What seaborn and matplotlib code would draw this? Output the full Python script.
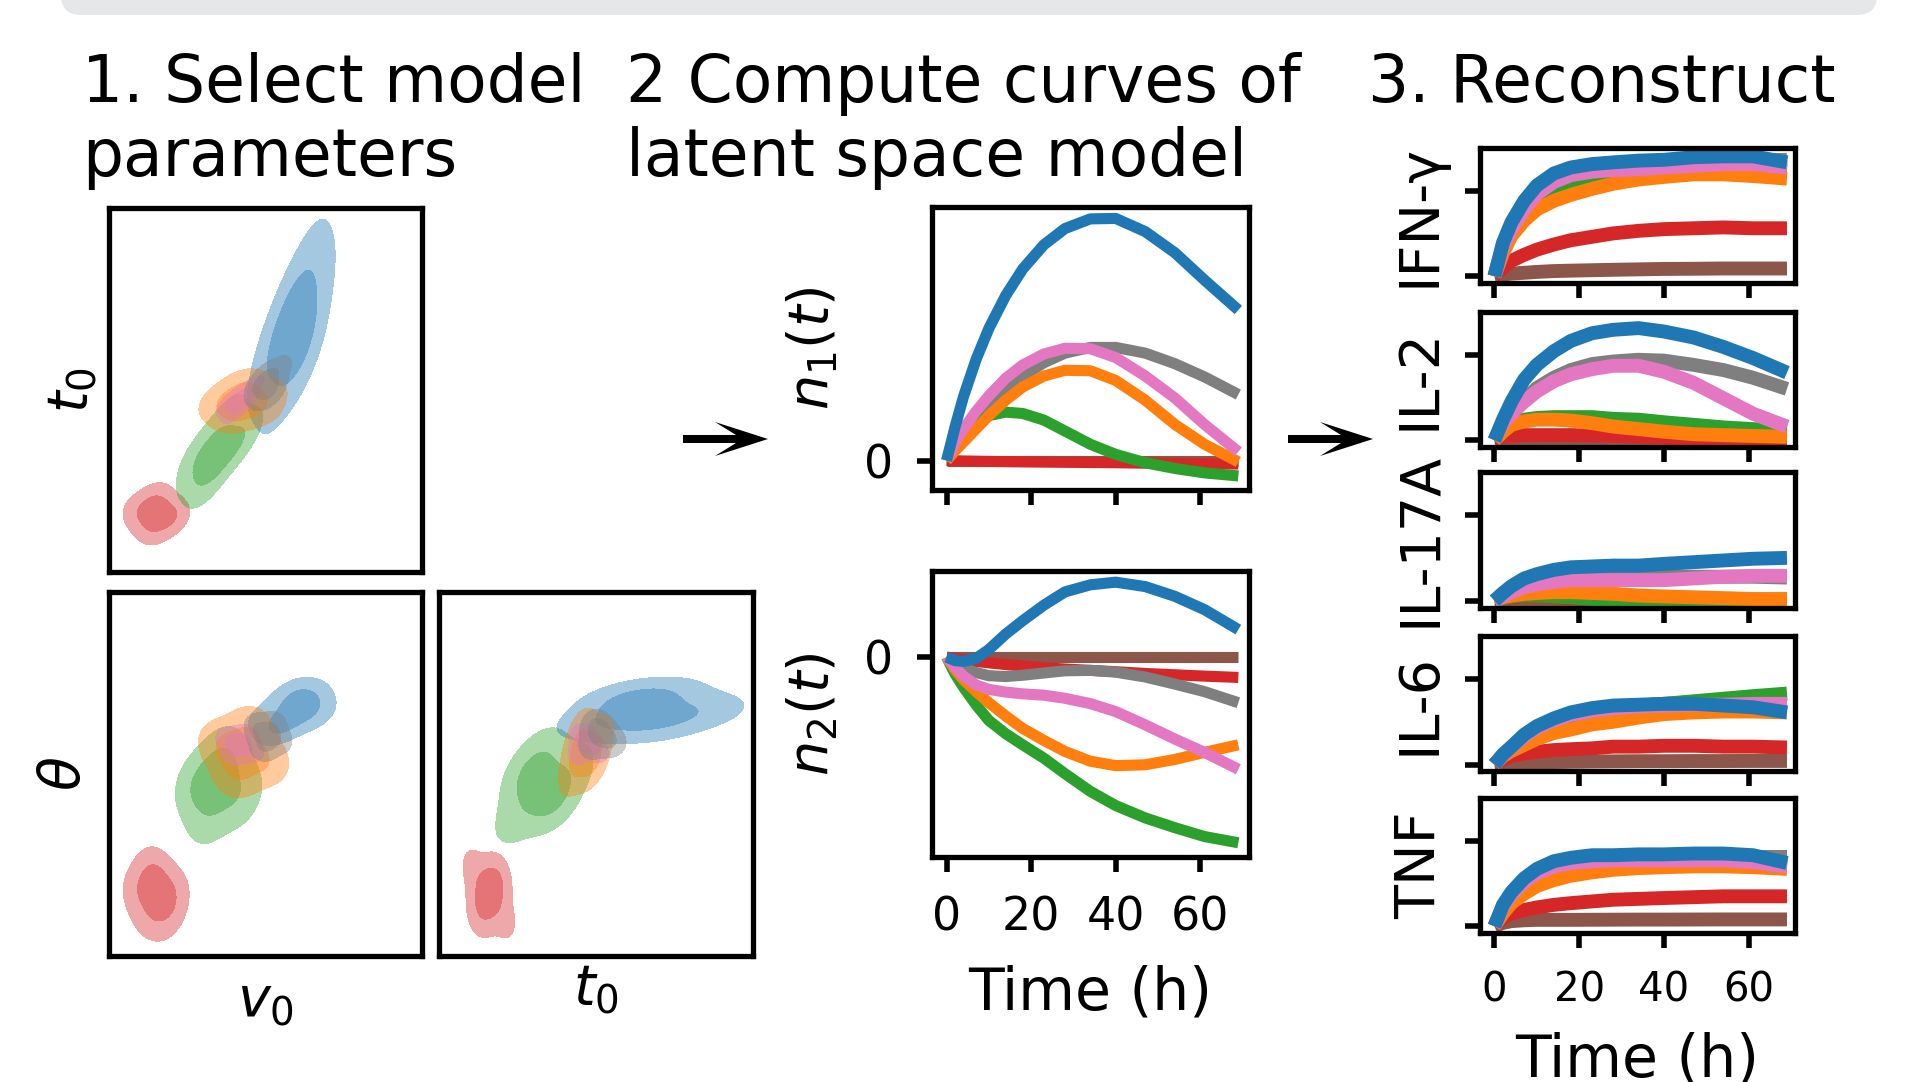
import matplotlib
matplotlib.use("Agg")
import matplotlib.pyplot as plt
from matplotlib.colors import ListedColormap
from matplotlib.patches import FancyBboxPatch, Polygon
import pandas as pd
import seaborn as sns


# ------------------------------------------------------------------ #
# Data                                          #
# ------------------------------------------------------------------ #
TIME = [0, 2, 4, 7, 10, 14, 18, 23, 28, 34, 40, 47, 54, 61, 69]

# drawing order: later names end up on top
SERIES = ["brown", "red", "gray", "green", "orange", "pink", "blue"]
PALETTE = {
    "blue": "#1f77b4", "orange": "#ff7f0e", "green": "#2ca02c", "red": "#d62728",
    "brown": "#8c564b", "pink": "#e377c2", "gray": "#7f7f7f",
}

# latent space curves n1(t), n2(t)
n1_curves = {
    "blue":   [0, 0.76, 1.45, 2.30, 3.00, 3.75, 4.35, 4.90, 5.27, 5.49, 5.50, 5.20, 4.72, 4.10, 3.42],
    "gray":   [0, 0.32, 0.52, 0.82, 1.12, 1.57, 1.92, 2.22, 2.44, 2.57, 2.57, 2.44, 2.20, 1.90, 1.50],
    "pink":   [0, 0.42, 0.72, 1.12, 1.47, 1.87, 2.17, 2.42, 2.55, 2.54, 2.34, 1.92, 1.42, 0.82, 0.20],
    "orange": [0, 0.22, 0.42, 0.72, 1.02, 1.37, 1.67, 1.92, 2.05, 2.04, 1.82, 1.37, 0.82, 0.37, -0.03],
    "green":  [0, 0.27, 0.52, 0.82, 1.02, 1.10, 1.07, 0.92, 0.67, 0.37, 0.14, -0.05, -0.18, -0.28, -0.35],
    "red":    [0, -0.005, -0.01, -0.015, -0.02, -0.025, -0.03, -0.035, -0.04, -0.045, -0.05, -0.06, -0.065, -0.07, -0.08],
    "brown":  [0, 0, 0, 0, 0, 0, 0, 0, 0, 0, 0, 0, 0, 0, 0],
}
n2_curves = {
    "blue":   [0, -0.08, -0.10, -0.03, 0.17, 0.52, 0.82, 1.17, 1.47, 1.63, 1.69, 1.59, 1.37, 1.07, 0.62],
    "red":    [0, -0.03, -0.06, -0.10, -0.13, -0.17, -0.20, -0.24, -0.27, -0.30, -0.33, -0.37, -0.40, -0.43, -0.46],
    "brown":  [0, 0, 0, 0, 0, 0, 0, 0, 0, 0, 0, 0, 0, 0, 0],
    "gray":   [0, -0.13, -0.25, -0.35, -0.42, -0.44, -0.41, -0.36, -0.31, -0.30, -0.34, -0.45, -0.61, -0.78, -1.03],
    "pink":   [0, -0.23, -0.43, -0.63, -0.73, -0.79, -0.83, -0.86, -0.93, -1.05, -1.23, -1.53, -1.85, -2.15, -2.53],
    "orange": [0, -0.28, -0.51, -0.78, -1.03, -1.33, -1.61, -1.88, -2.13, -2.35, -2.45, -2.43, -2.31, -2.15, -1.98],
    "green":  [0, -0.38, -0.68, -1.08, -1.43, -1.73, -1.98, -2.28, -2.63, -3.03, -3.35, -3.63, -3.85, -4.05, -4.19],
}

# reconstructed cytokines
ifng_curves = {
    "blue":   [0, 0.39, 0.63, 0.88, 1.06, 1.20, 1.27, 1.31, 1.33, 1.35, 1.36, 1.39, 1.40, 1.40, 1.33],
    "pink":   [0, 0.35, 0.55, 0.78, 0.96, 1.10, 1.18, 1.22, 1.24, 1.25, 1.27, 1.29, 1.31, 1.31, 1.27],
    "gray":   [0, 0.36, 0.57, 0.80, 0.98, 1.12, 1.19, 1.23, 1.25, 1.27, 1.29, 1.31, 1.33, 1.35, 1.36],
    "green":  [0, 0.32, 0.52, 0.72, 0.88, 1.02, 1.10, 1.15, 1.19, 1.21, 1.23, 1.24, 1.25, 1.25, 1.23],
    "orange": [0, 0.27, 0.47, 0.65, 0.78, 0.88, 0.95, 1.02, 1.08, 1.13, 1.16, 1.19, 1.19, 1.17, 1.14],
    "red":    [0, 0.10, 0.18, 0.25, 0.31, 0.37, 0.42, 0.46, 0.50, 0.53, 0.55, 0.56, 0.57, 0.56, 0.56],
    "brown":  [0, 0.02, 0.03, 0.04, 0.05, 0.06, 0.065, 0.07, 0.075, 0.08, 0.085, 0.087, 0.09, 0.09, 0.09],
}
il2_curves = {
    "blue":   [0, 0.24, 0.45, 0.71, 0.88, 1.04, 1.16, 1.25, 1.29, 1.31, 1.27, 1.20, 1.09, 0.96, 0.79],
    "gray":   [0, 0.20, 0.31, 0.47, 0.61, 0.73, 0.82, 0.89, 0.92, 0.94, 0.93, 0.88, 0.82, 0.73, 0.60],
    "pink":   [0, 0.20, 0.31, 0.45, 0.57, 0.69, 0.77, 0.83, 0.87, 0.87, 0.80, 0.67, 0.49, 0.31, 0.16],
    "green":  [0, 0.10, 0.18, 0.24, 0.26, 0.27, 0.27, 0.27, 0.25, 0.24, 0.21, 0.18, 0.15, 0.13, 0.11],
    "orange": [0, 0.10, 0.18, 0.22, 0.24, 0.24, 0.23, 0.20, 0.16, 0.13, 0.10, 0.07, 0.06, 0.05, 0.04],
    "red":    [0, 0.04, 0.05, 0.06, 0.06, 0.06, 0.06, 0.055, 0.05, 0.04, 0.03, 0.02, 0.01, 0.0, 0.0],
    "brown":  [0, 0.01, 0.01, 0.01, 0.01, 0.01, 0.01, 0.01, 0.01, 0.01, 0.01, 0.01, 0.01, 0.01, 0.01],
}
il17a_curves = {
    "blue":   [0, 0.09, 0.17, 0.26, 0.31, 0.36, 0.39, 0.40, 0.41, 0.41, 0.43, 0.45, 0.47, 0.49, 0.50],
    "pink":   [0, 0.05, 0.10, 0.16, 0.19, 0.22, 0.24, 0.24, 0.24, 0.24, 0.24, 0.26, 0.28, 0.29, 0.29],
    "gray":   [0, 0.06, 0.12, 0.18, 0.21, 0.24, 0.26, 0.27, 0.27, 0.28, 0.28, 0.28, 0.28, 0.28, 0.27],
    "orange": [0, 0.04, 0.06, 0.08, 0.09, 0.10, 0.10, 0.09, 0.08, 0.06, 0.05, 0.04, 0.03, 0.02, 0.02],
    "green":  [0, 0.03, 0.05, 0.06, 0.06, 0.05, 0.04, 0.02, 0.0, -0.02, -0.03, -0.04, -0.04, -0.05, -0.05],
    "red":    [0, 0.03, 0.04, 0.05, 0.05, 0.04, 0.03, 0.02, 0.01, 0.0, 0.0, 0.0, 0.0, 0.0, 0.0],
    "brown":  [0, 0.005, 0.01, 0.01, 0.01, 0.01, 0.01, 0.01, 0.01, 0.01, 0.01, 0.01, 0.01, 0.01, 0.01],
}
il6_curves = {
    "blue":   [0, 0.12, 0.21, 0.35, 0.45, 0.54, 0.61, 0.66, 0.69, 0.70, 0.71, 0.71, 0.69, 0.67, 0.61],
    "green":  [0, 0.11, 0.19, 0.32, 0.42, 0.51, 0.57, 0.62, 0.66, 0.69, 0.71, 0.74, 0.77, 0.80, 0.83],
    "gray":   [0, 0.11, 0.19, 0.32, 0.42, 0.51, 0.57, 0.62, 0.66, 0.69, 0.71, 0.73, 0.74, 0.76, 0.77],
    "pink":   [0, 0.11, 0.20, 0.33, 0.43, 0.52, 0.58, 0.63, 0.66, 0.68, 0.69, 0.70, 0.70, 0.71, 0.71],
    "orange": [0, 0.10, 0.16, 0.23, 0.30, 0.37, 0.41, 0.47, 0.50, 0.55, 0.59, 0.61, 0.62, 0.62, 0.61],
    "red":    [0, 0.06, 0.10, 0.13, 0.15, 0.17, 0.18, 0.19, 0.21, 0.21, 0.22, 0.22, 0.21, 0.21, 0.20],
    "brown":  [0, 0.01, 0.015, 0.02, 0.025, 0.03, 0.033, 0.036, 0.038, 0.04, 0.04, 0.042, 0.042, 0.043, 0.043],
}
tnf_curves = {
    "blue":   [0, 0.25, 0.40, 0.56, 0.67, 0.76, 0.80, 0.83, 0.83, 0.84, 0.84, 0.85, 0.85, 0.83, 0.74],
    "gray":   [0, 0.22, 0.36, 0.50, 0.60, 0.69, 0.74, 0.77, 0.78, 0.79, 0.80, 0.80, 0.81, 0.81, 0.81],
    "pink":   [0, 0.23, 0.37, 0.52, 0.62, 0.70, 0.74, 0.76, 0.77, 0.77, 0.77, 0.77, 0.77, 0.75, 0.70],
    "green":  [0, 0.22, 0.36, 0.50, 0.60, 0.67, 0.71, 0.73, 0.74, 0.75, 0.75, 0.75, 0.75, 0.74, 0.72],
    "orange": [0, 0.15, 0.27, 0.38, 0.47, 0.54, 0.59, 0.63, 0.66, 0.68, 0.69, 0.70, 0.70, 0.69, 0.67],
    "red":    [0, 0.10, 0.15, 0.19, 0.22, 0.25, 0.27, 0.29, 0.31, 0.32, 0.33, 0.34, 0.35, 0.35, 0.35],
    "brown":  [0, 0.04, 0.06, 0.07, 0.075, 0.075, 0.075, 0.076, 0.077, 0.078, 0.078, 0.079, 0.08, 0.08, 0.08],
}
CYTOKINES = ["IFN-γ", "IL-2", "IL-17A", "IL-6", "TNF"]
cytokine_curves = [ifng_curves, il2_curves, il17a_curves, il6_curves, tnf_curves]

# model parameter samples (scaled 0..1) for the density panels
KDE_ORDER = ["red", "green", "blue", "orange", "pink", "gray"]
v0_samples = {
    "red":    [0.09, 0.12, 0.15, 0.18, 0.21, 0.14, 0.16, 0.11, 0.19, 0.15],
    "green":  [0.28, 0.31, 0.34, 0.35, 0.38, 0.43, 0.32, 0.40, 0.37, 0.29],
    "blue":   [0.50, 0.54, 0.57, 0.60, 0.62, 0.64, 0.66, 0.58, 0.63, 0.55],
    "orange": [0.35, 0.40, 0.43, 0.46, 0.51, 0.37, 0.44, 0.49, 0.42, 0.41],
    "pink":   [0.38, 0.40, 0.42, 0.44, 0.46, 0.41, 0.43, 0.39],
    "gray":   [0.47, 0.49, 0.51, 0.53, 0.55, 0.50, 0.52, 0.48],
}
t0_samples = {
    "red":    [0.16, 0.13, 0.19, 0.14, 0.17, 0.11, 0.21, 0.18, 0.15, 0.16],
    "green":  [0.28, 0.24, 0.36, 0.31, 0.43, 0.38, 0.29, 0.35, 0.34, 0.33],
    "blue":   [0.56, 0.50, 0.70, 0.60, 0.66, 0.85, 0.78, 0.72, 0.62, 0.64],
    "orange": [0.45, 0.42, 0.50, 0.46, 0.49, 0.48, 0.52, 0.44, 0.47, 0.44],
    "pink":   [0.46, 0.44, 0.49, 0.47, 0.51, 0.45, 0.48, 0.47],
    "gray":   [0.50, 0.48, 0.54, 0.51, 0.56, 0.53, 0.49, 0.52],
}
theta_samples = {
    "red":    [0.17, 0.11, 0.22, 0.15, 0.19, 0.24, 0.10, 0.20, 0.14, 0.18],
    "green":  [0.47, 0.37, 0.43, 0.51, 0.52, 0.46, 0.50, 0.42, 0.56, 0.45],
    "blue":   [0.66, 0.63, 0.64, 0.70, 0.71, 0.68, 0.66, 0.72, 0.69, 0.63],
    "orange": [0.59, 0.49, 0.55, 0.63, 0.53, 0.57, 0.61, 0.54, 0.51, 0.56],
    "pink":   [0.60, 0.55, 0.57, 0.61, 0.56, 0.59, 0.58, 0.58],
    "gray":   [0.63, 0.57, 0.60, 0.64, 0.59, 0.58, 0.61, 0.62],
}

# ------------------------------------------------------------------ #
# Style                                                                #
# ------------------------------------------------------------------ #
sns.set_style("ticks", rc={
    "axes.edgecolor": "black",
    "xtick.color": "black",
    "ytick.color": "black",
    "text.color": "black",
    "axes.labelcolor": "black",
})
plt.rcParams["font.family"] = ["DejaVu Sans"]
plt.rcParams["mathtext.fontset"] = "dejavusans"
plt.rcParams["axes.linewidth"] = 3.8

W_PX, H_PX = 1905, 1082
fig = plt.figure(figsize=(W_PX / 100, H_PX / 100), dpi=100)

# grey band at the very top
band = FancyBboxPatch((0.61, (H_PX - 15) / 100), 18.16, 1.0,
                      boxstyle="round,pad=0,rounding_size=0.2",
                      transform=fig.dpi_scale_trans, facecolor="#e6e7e9",
                      edgecolor="none")
fig.add_artist(band)

# headings
title_kw = dict(fontsize=46.5, va="top", ha="left", linespacing=1.2)
fig.text(0.043, 0.9524, "1. Select model\nparameters", **title_kw)
fig.text(0.3288, 0.9524, "2 Compute curves of\nlatent space model", **title_kw)
fig.text(0.718, 0.9524, "3. Reconstruct", **title_kw)


# arrows between the columns
def add_arrow(tip_x, tip_y):
    shape = [(0, 0), (-53, -17), (-32, -4), (-85, -4), (-85, 4), (-32, 4), (-53, 17)]
    pts = [((tip_x + dx) / 100, (H_PX - tip_y - dy) / 100) for dx, dy in shape]
    fig.add_artist(Polygon(pts, closed=True, transform=fig.dpi_scale_trans,
                           facecolor="black", edgecolor="none"))


add_arrow(768, 439)
add_arrow(1373, 439)


# ------------------------------------------------------------------ #
# 1. Parameter densities                                              #
# ------------------------------------------------------------------ #
def draw_kde(ax, xs, ys):
    for g in KDE_ORDER:
        df = pd.DataFrame({"px": xs[g], "py": ys[g]})
        for lvl in (0.1, 0.5):
            sns.kdeplot(data=df, x="px", y="py", fill=True, levels=[lvl, 1.0],
                        bw_adjust=1.35, cmap=ListedColormap([PALETTE[g]]),
                        alpha=0.4, ax=ax)
    ax.set(xlim=(0, 1), ylim=(0, 1), xticks=[], yticks=[], xlabel="", ylabel="")


ax_tl = fig.add_axes([0.0574, 0.4712, 0.1640, 0.3369])
draw_kde(ax_tl, v0_samples, t0_samples)
ax_tl.set_ylabel(r"$t_0$", fontsize=40)
ax_tl.yaxis.set_label_coords(-0.035, 0.5)

ax_bl = fig.add_axes([0.0574, 0.1164, 0.1640, 0.3368])
draw_kde(ax_bl, v0_samples, theta_samples)
ax_bl.set_ylabel(r"$\theta$", fontsize=40)
ax_bl.yaxis.set_label_coords(-0.054, 0.5)
ax_bl.set_xlabel(r"$v_0$", fontsize=40)
ax_bl.xaxis.set_label_coords(0.5, -0.047)

ax_bm = fig.add_axes([0.2302, 0.1164, 0.1651, 0.3368])
draw_kde(ax_bm, t0_samples, theta_samples)
ax_bm.set_xlabel(r"$t_0$", fontsize=40)
ax_bm.xaxis.set_label_coords(0.5, -0.016)


# ------------------------------------------------------------------ #
# 2./3. Curves                                                         #
# ------------------------------------------------------------------ #
def long_frame(curves):
    rows = []
    for name in SERIES:
        for t, v in zip(TIME, curves[name]):
            rows.append((t, v, name))
    return pd.DataFrame(rows, columns=["time", "value", "series"])


def draw_curves(ax, curves, lw):
    sns.lineplot(data=long_frame(curves), x="time", y="value", hue="series",
                 hue_order=SERIES, palette=PALETTE, linewidth=lw,
                 estimator=None, legend=False, ax=ax,
                 solid_capstyle="butt", solid_joinstyle="round")
    ax.set_xlabel("")
    ax.set_ylabel("")
    ax.set_xticks([0, 20, 40, 60])


ax_n1 = fig.add_axes([0.4891, 0.5475, 0.1665, 0.2616])
draw_curves(ax_n1, n1_curves, 8)
ax_n1.set(xlim=(-3.5, 71.5), ylim=(-0.66, 5.77), yticks=[0], yticklabels=["0"])
ax_n1.set_xticklabels([])
ax_n1.set_ylabel(r"$n_1(t)$", fontsize=40)
ax_n1.yaxis.set_label_coords(-0.29, 0.5)

ax_n2 = fig.add_axes([0.4891, 0.2084, 0.1665, 0.2638])
draw_curves(ax_n2, n2_curves, 8)
ax_n2.set(xlim=(-3.5, 71.5), ylim=(-4.5, 1.94), yticks=[0], yticklabels=["0"])
ax_n2.set_ylabel(r"$n_2(t)$", fontsize=40)
ax_n2.yaxis.set_label_coords(-0.29, 0.5)
ax_n2.set_xlabel("Time (h)", fontsize=42)
ax_n2.xaxis.set_label_coords(0.5, -0.377)

for ax in (ax_n1, ax_n2):
    ax.tick_params(length=11, width=4, pad=17, labelsize=33)

right_bottoms = [0.7384, 0.5868, 0.4385, 0.2870, 0.1376]
for i, (label, curves) in enumerate(zip(CYTOKINES, cytokine_curves)):
    ax = fig.add_axes([0.7767, right_bottoms[i], 0.1658, 0.125])
    draw_curves(ax, curves, 10)
    ax.set(xlim=(-3.5, 71), ylim=(-0.08, 1.5), yticks=[0, 1])
    ax.set_yticklabels([])
    ax.tick_params(length=11, width=4, pad=16, labelsize=29)
    ax.set_ylabel(label, fontsize=40)
    ax.yaxis.set_label_coords(-0.104, 0.5)
    if i < len(CYTOKINES) - 1:
        ax.set_xticklabels([])
    else:
        ax.set_xlabel("Time (h)", fontsize=42)
        ax.xaxis.set_label_coords(0.5, -0.726)

fig.savefig("out.png", dpi=100)
